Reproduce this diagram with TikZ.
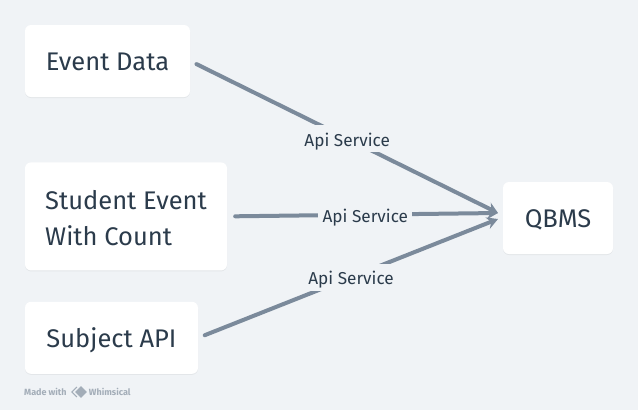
\documentclass[tikz,border=0pt]{standalone}
\usepackage{fontspec}
\setmainfont{Fira Sans}
\usetikzlibrary{positioning, arrows.meta, shadows, shapes.geometric}
\definecolor{pagebg}{HTML}{F0F3F6}
\definecolor{inkdark}{HTML}{2B3B4B}
\definecolor{linkgray}{HTML}{7B8A9B}
\definecolor{markgray}{HTML}{A3ADB8}
\tikzset{
  card/.style={fill=white, rounded corners=6pt, inner sep=0pt, text=inkdark, align=left,
    text height=19.5pt, text depth=0pt,
    font=\fontsize{25.5}{36}\selectfont, drop shadow={shadow xshift=0pt, shadow yshift=-1pt, opacity=0.05, fill=black}},
  link/.style={draw=linkgray, line width=4pt, line cap=round, -{Stealth[length=11pt,width=12pt]}},
  service/.style={fill=pagebg, text=inkdark, font=\fontsize{17.2}{19}\selectfont, text height=15pt, text depth=0pt,
    minimum height=27pt, minimum width=94pt, inner sep=0pt}
}
\begin{document}
\begin{tikzpicture}[x=1pt,y=-1pt]
  \fill[pagebg] (0,0) rectangle (638,410);

  \node[card, minimum width=165pt, minimum height=72pt] (eventdata) at (107.5,61) {Event Data};
  \node[card, minimum width=202pt, minimum height=108pt, text height=58pt, below=65pt of eventdata.south west, anchor=north west] (studentevent) {Student Event\\With Count};
  \node[card, minimum width=173pt, minimum height=72pt, below=31pt of studentevent.south west, anchor=north west] (subjectapi) {Subject API};
  \node[card, minimum width=110pt, minimum height=72pt] (qbms) at (558,218) {QBMS};

  \coordinate (qbmstop) at (498,213);
  \coordinate (qbmslow) at (498,219);

  \draw[link, shorten <=7pt] (eventdata.east) -- (qbmstop) node[service, pos=0.51] {Api Service};
  \draw[link, shorten <=8pt] (studentevent.east) -- (qbmstop) node[service, pos=0.51] {Api Service};
  \draw[link, shorten <=7pt] (subjectapi.east) -- (qbmslow) node[service, pos=0.51] {Api Service};

  % footer mark
  \node[text=markgray, font=\fontsize{9}{10}\selectfont\bfseries, anchor=west, inner sep=0pt] (madewith) at (24,392) {Made with};
  \node[diamond, fill=markgray, minimum size=12pt, inner sep=0pt, right=8pt of madewith] (markicon) {};
  \draw[markgray, line width=1.2pt] ([xshift=2pt,yshift=-5pt]markicon.west) -- ([xshift=-3pt]markicon.west) -- ([xshift=2pt,yshift=5pt]markicon.west);
  \node[text=markgray, font=\fontsize{9}{10}\selectfont\bfseries, inner sep=0pt, right=1.5pt of markicon] (whimsical) {Whimsical};
\end{tikzpicture}
\end{document}
